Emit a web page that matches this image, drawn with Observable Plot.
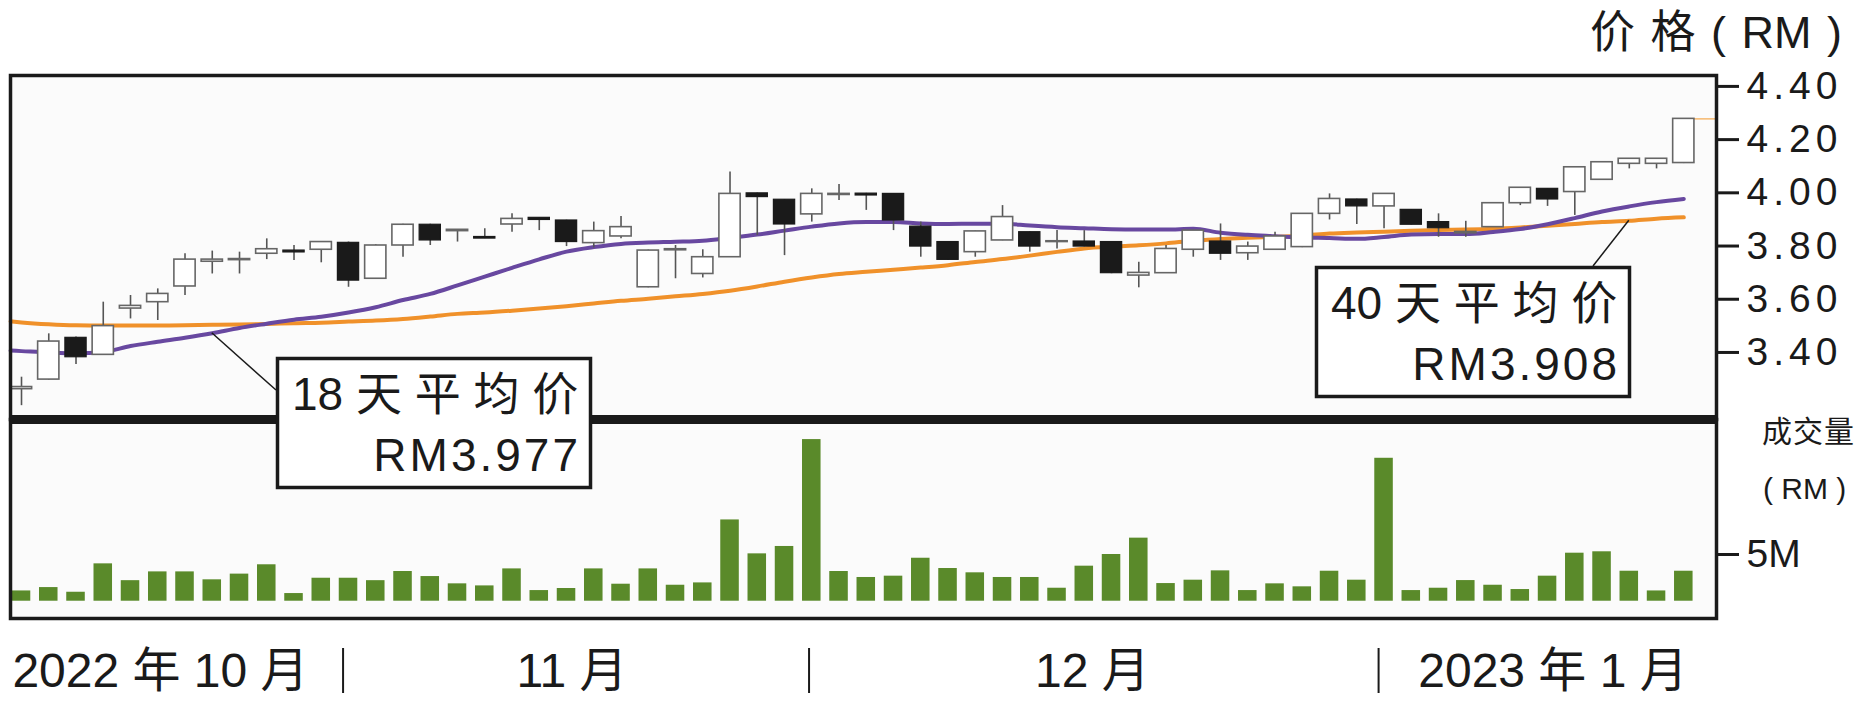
<!DOCTYPE html>
<html>
<head>
<meta charset="utf-8">
<script src="https://cdn.jsdelivr.net/npm/d3@7"></script>
<script src="https://cdn.jsdelivr.net/npm/@observablehq/plot@0.6"></script>
<style>
  html, body { margin: 0; padding: 0; background: #fff; }
  #wrap { position: relative; width: 1866px; height: 704px; overflow: hidden; background: #fff;
          font-family: "Liberation Sans", "Noto Sans CJK SC", sans-serif; color: #1a1a1a; }
  #wrap svg { position: absolute; left: 0; overflow: visible; }
  .lbl { position: absolute; white-space: pre; line-height: 1; color: #1a1a1a; }
  .pricePlot g[aria-label="y-axis tick label"] text { letter-spacing: 5px; }
</style>
</head>
<body>
<div id="wrap"></div>
<script>
// ---- data ----
const openP  = [3.262,3.298,3.455,3.391,3.565,3.589,3.648,3.741,3.747,3.771,3.783,3.786,3.812,3.677,3.802,3.880,
                3.856,3.834,3.881,3.906,3.896,3.811,3.836,3.645,3.784,3.695,3.758,3.998,3.974,3.919,3.992,3.997,
                3.996,3.873,3.815,3.777,3.821,3.852,3.815,3.817,3.815,3.689,3.698,3.786,3.817,3.773,3.786,3.796,
                3.921,3.975,3.949,3.936,3.890,3.848,3.871,3.961,4.015,4.003,4.049,4.109,4.109,4.112];
const highP  = [3.307,3.470,3.458,3.589,3.614,3.639,3.771,3.781,3.777,3.827,3.802,3.815,3.815,3.805,3.882,3.882,
                3.860,3.865,3.921,3.907,3.897,3.890,3.911,3.785,3.802,3.786,4.078,3.999,3.975,4.015,4.031,3.998,
                3.997,3.890,3.816,3.856,3.952,3.853,3.858,3.858,3.816,3.739,3.802,3.859,3.883,3.815,3.852,3.922,
                3.996,3.976,3.997,3.937,3.921,3.893,3.962,4.020,4.016,4.097,4.116,4.129,4.129,4.279];
const lowP   = [3.200,3.296,3.355,3.389,3.526,3.520,3.614,3.695,3.695,3.749,3.746,3.737,3.645,3.675,3.758,3.802,
                3.815,3.828,3.852,3.858,3.798,3.793,3.827,3.643,3.677,3.680,3.757,3.840,3.764,3.890,3.971,3.934,
                3.858,3.758,3.746,3.758,3.820,3.777,3.789,3.797,3.696,3.643,3.697,3.758,3.746,3.746,3.785,3.794,
                3.898,3.881,3.865,3.879,3.833,3.833,3.870,3.952,3.949,3.915,4.048,4.090,4.090,4.110];
const closeP = [3.270,3.441,3.382,3.499,3.575,3.620,3.749,3.749,3.751,3.788,3.776,3.815,3.670,3.802,3.880,3.821,
                3.861,3.828,3.902,3.898,3.815,3.856,3.871,3.783,3.788,3.758,3.996,3.984,3.881,3.996,3.996,3.990,
                3.896,3.798,3.748,3.855,3.909,3.798,3.818,3.798,3.698,3.699,3.789,3.858,3.771,3.798,3.836,3.921,
                3.977,3.949,3.996,3.880,3.867,3.853,3.961,4.019,3.975,4.096,4.115,4.128,4.128,4.278];
const volumeM = [1.10,1.46,0.96,4.00,2.20,3.14,3.14,2.29,2.90,3.90,0.82,2.46,2.46,2.20,3.18,2.64,
                 1.86,1.64,3.46,1.14,1.36,3.46,1.82,3.46,1.71,1.96,8.70,5.07,5.86,17.30,3.18,2.54,
                 2.68,4.60,3.50,3.04,2.54,2.54,1.39,3.75,5.00,6.75,1.89,2.25,3.25,1.14,1.86,1.54,
                 3.21,2.25,15.30,1.14,1.39,2.21,1.71,1.25,2.68,5.14,5.29,3.21,1.10,3.21];
const ma18 = [3.405,3.400,3.397,3.402,3.424,3.440,3.455,3.472,3.492,3.508,3.523,3.534,3.550,3.570,3.597,3.620,
              3.652,3.685,3.718,3.750,3.779,3.796,3.808,3.813,3.816,3.820,3.831,3.843,3.858,3.873,3.885,3.890,
              3.890,3.885,3.883,3.884,3.884,3.877,3.871,3.867,3.863,3.862,3.862,3.865,3.850,3.842,3.837,3.832,
              3.830,3.827,3.834,3.843,3.845,3.845,3.853,3.864,3.882,3.905,3.930,3.949,3.965,3.977];
const ma40 = [3.513,3.506,3.502,3.501,3.501,3.501,3.502,3.504,3.505,3.507,3.510,3.512,3.516,3.520,3.526,3.535,
              3.545,3.550,3.557,3.565,3.574,3.584,3.594,3.602,3.611,3.620,3.632,3.648,3.666,3.682,3.695,3.703,
              3.711,3.719,3.728,3.740,3.751,3.764,3.778,3.791,3.798,3.803,3.810,3.820,3.826,3.831,3.835,3.839,
              3.847,3.851,3.854,3.857,3.860,3.862,3.865,3.870,3.876,3.883,3.890,3.895,3.903,3.908];
// moving-average values where the lines meet the left edge of the frame
const maLeadPos = 0.6;
const ma18Lead = 3.407;
const ma40Lead = 3.517;
const priceTicks = [3.40, 3.60, 3.80, 4.00, 4.20, 4.40];
const volumeTicks = [5];
const monthLabels = ["2022 年 10 月", "11 月", "12 月", "2023 年 1 月"];
const monthCenters = [6.1, 21.2, 40.3, 57.2];
const monthBounds = [12.8, 29.9, 50.8];
const maNotes = [
  {title: "18 天 平 均 价", value: "RM3.977", series: "ma18", at: 8},
  {title: "40 天 平 均 价", value: "RM3.908", series: "ma40", at: 60}
];

// ---- table ----
const candles = openP.map((o, k) => ({
  i: k + 1, o, h: highP[k], l: lowP[k], c: closeP[k], v: volumeM[k], ma18: ma18[k], ma40: ma40[k]
}));
const maLine = [{i: maLeadPos, ma18: ma18Lead, ma40: ma40Lead}, ...candles];
const ups = candles.filter(d => d.c >= d.o);
const downs = candles.filter(d => d.c < d.o);

const FONT = '"Liberation Sans", "Noto Sans CJK SC", sans-serif';
const INK = "#1a1a1a";
const xDomain = [0.596, 63.2];
const W = 1866, ML = 10, MR = 150;

const wrap = document.getElementById("wrap");

// ---- volume panel ----
const vol = Plot.plot({
  width: W, height: 285,
  marginTop: 0, marginBottom: 86, marginLeft: ML, marginRight: MR,
  x: {domain: xDomain, axis: null, label: null},
  y: {domain: [-1.85, 19.45], axis: null, label: null},
  style: {background: "transparent", fontFamily: FONT, color: INK, overflow: "visible"},
  marks: [
    Plot.frame({fill: "#fbfbfb", stroke: null}),
    Plot.rect(candles, {x1: d => d.i - 0.34, x2: d => d.i + 0.34, y1: 0, y2: "v", fill: "#5a8a2a"}),
    Plot.frame({stroke: INK, strokeWidth: 3.5}),
    Plot.axisY({anchor: "right", ticks: volumeTicks, tickFormat: d => d + "M", tickSize: 22, tickPadding: 8,
                fontSize: 39, strokeWidth: 3, label: null}),
    Plot.axisX({anchor: "bottom", ticks: monthBounds, tickFormat: () => "", tickSize: 45, dy: 30, strokeWidth: 2,
                label: null}),
    Plot.text(monthLabels, {x: (d, k) => monthCenters[k], text: d => d, frameAnchor: "bottom", dy: 68,
                            fontSize: 48, fill: INK, textAnchor: "middle"})
  ]
});
vol.style.top = "419px";
wrap.appendChild(vol);

// ---- price panel ----
const price = Plot.plot({
  width: W, height: 430,
  marginTop: 75, marginBottom: 11, marginLeft: ML, marginRight: MR,
  x: {domain: xDomain, axis: null, label: null},
  y: {domain: [3.148, 4.441], axis: null, label: null},
  style: {background: "transparent", fontFamily: FONT, color: INK, overflow: "visible"},
  marks: [
    Plot.frame({fill: "#fbfbfb", stroke: null}),
    Plot.ruleY([closeP[closeP.length - 1]], {x1: candles.length + 0.35, x2: xDomain[1], stroke: "#f6b86e", strokeWidth: 1.5}),
    Plot.line(maLine, {x: "i", y: "ma40", stroke: "#f0912a", strokeWidth: 4, curve: "monotone-x"}),
    Plot.line(maLine, {x: "i", y: "ma18", stroke: "#6848a0", strokeWidth: 4, curve: "monotone-x"}),
    Plot.ruleX(candles, {x: "i", y1: "l", y2: "h", stroke: "#555", strokeWidth: 1.6}),
    Plot.rect(ups, {x1: d => d.i - 0.39, x2: d => d.i + 0.39, y1: "o", y2: "c", fill: "#fff", stroke: "#666", strokeWidth: 1.6}),
    Plot.rect(downs, {x1: d => d.i - 0.39, x2: d => d.i + 0.39, y1: "c", y2: "o", fill: INK, stroke: INK, strokeWidth: 1.2}),
    Plot.frame({stroke: INK, strokeWidth: 3.5}),
    Plot.ruleY([3.148], {stroke: INK, strokeWidth: 9}),
    Plot.axisY({anchor: "right", ticks: priceTicks, tickFormat: d => d.toFixed(2), tickSize: 22, tickPadding: 8,
                fontSize: 39, strokeWidth: 3, label: null})
  ]
});
price.classList.add("pricePlot");
price.style.top = "0px";
wrap.appendChild(price);

// ---- axis titles ----
function label(text, left, top, size, extra) {
  const d = document.createElement("div");
  d.className = "lbl";
  d.textContent = text;
  d.style.left = left + "px";
  d.style.top = top + "px";
  d.style.fontSize = size + "px";
  if (extra) Object.assign(d.style, extra);
  wrap.appendChild(d);
}
label("价 格 ( RM )", 1590, 10, 45, {wordSpacing: "3px"});
label("成交量", 1762, 417, 30, {letterSpacing: "1px"});
label("( RM )", 1763, 474, 30);

// ---- moving-average notes (boxes + leaders), anchored through the price scales ----
const xs = price.scale("x"), ys = price.scale("y");
const ov = d3.select(wrap).append("svg")
  .attr("width", W).attr("height", 704).style("top", "0px")
  .style("font-family", FONT);
const boxes = [{left: 276, top: 357}, {left: 1315, top: 266}];
const anchors = [[276, 390], [1593, 266]];
maNotes.forEach((n, k) => {
  const d = candles[n.at - 1];
  ov.append("line")
    .attr("x1", xs.apply(d.i)).attr("y1", ys.apply(d[n.series]))
    .attr("x2", anchors[k][0]).attr("y2", anchors[k][1])
    .attr("stroke", INK).attr("stroke-width", 1.5);
  const b = boxes[k];
  ov.append("rect").attr("x", b.left + 1.5).attr("y", b.top + 1.5)
    .attr("width", 313).attr("height", 129)
    .attr("fill", "#fff").attr("stroke", INK).attr("stroke-width", 3.5);
  ov.append("text").attr("x", b.left + 16).attr("y", b.top + 53)
    .attr("font-size", 46).attr("fill", INK).text(n.title);
  ov.append("text").attr("x", b.left + 305).attr("y", b.top + 114)
    .attr("font-size", 46).attr("fill", INK).attr("text-anchor", "end")
    .style("letter-spacing", "3px").text(n.value);
});
</script>
</body>
</html>
